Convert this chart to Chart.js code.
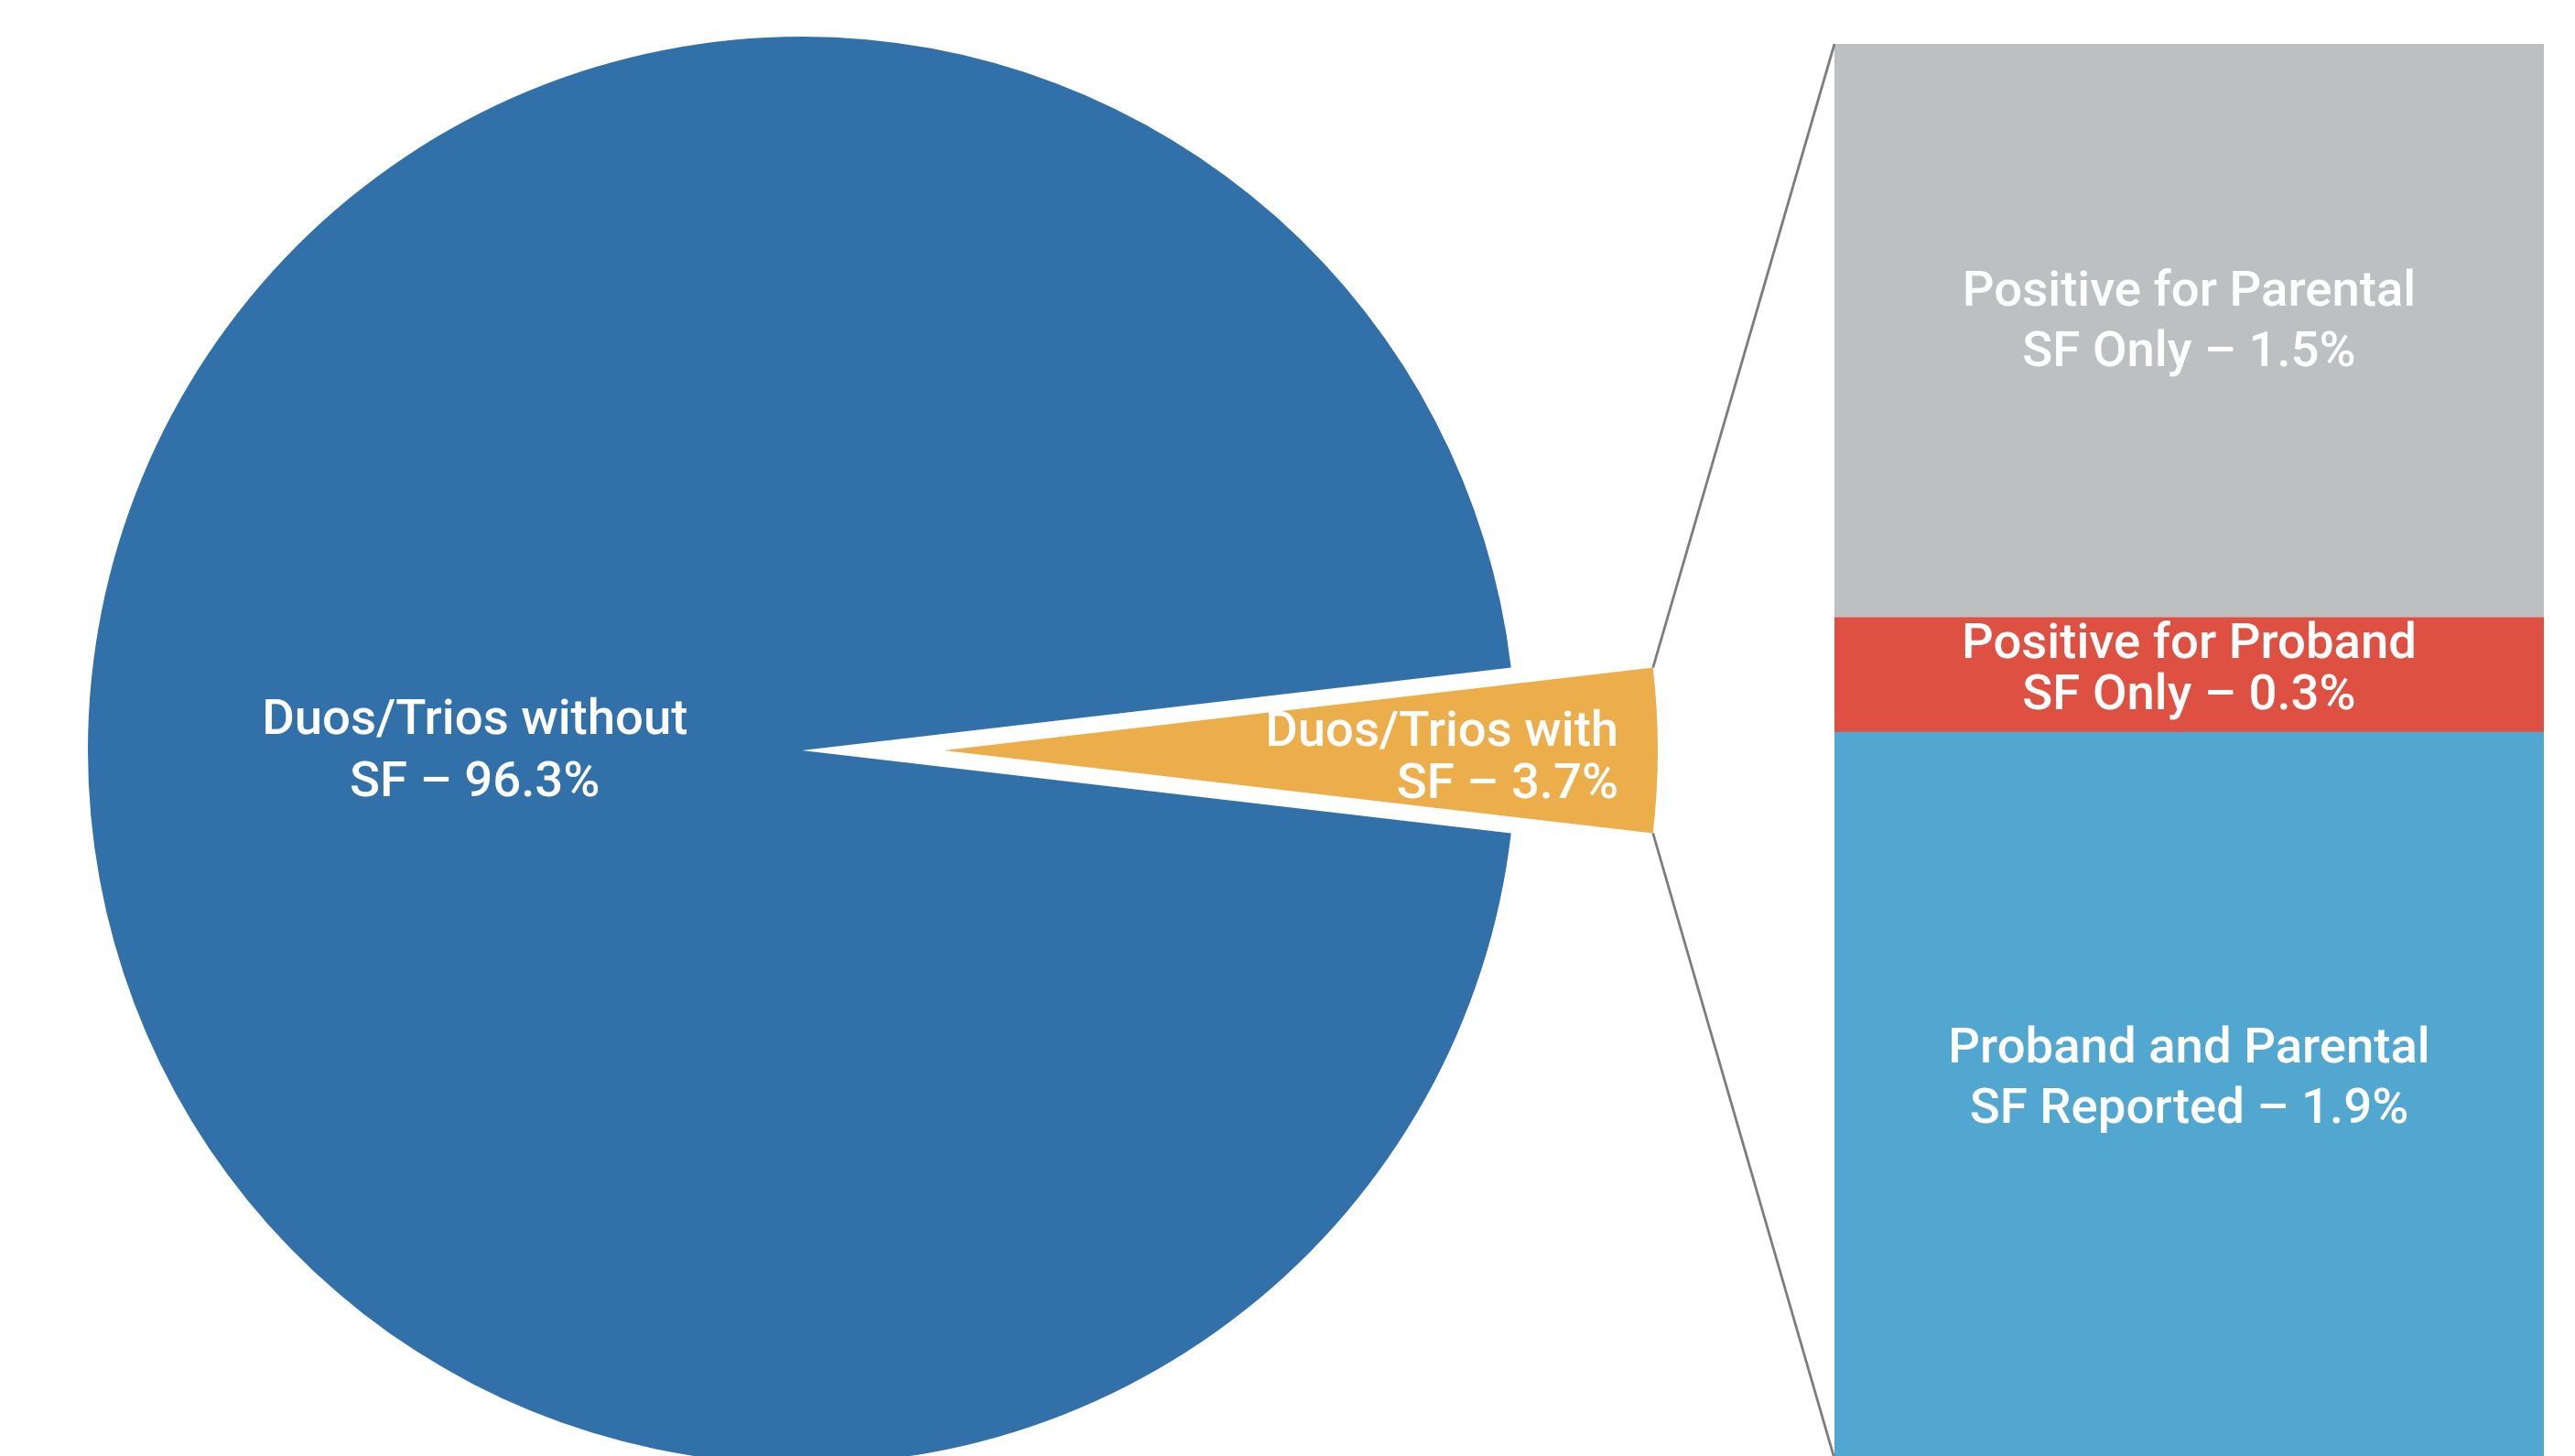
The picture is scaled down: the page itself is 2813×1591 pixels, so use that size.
<!DOCTYPE html>
<html>
<head>
<meta charset="utf-8">
<script src="https://cdn.jsdelivr.net/npm/chart.js@4.4.0/dist/chart.umd.min.js"></script>
<style>
  html, body { margin: 0; padding: 0; background: #ffffff; overflow: hidden; width: 2813px; height: 1591px; }
  #barWrap { position: absolute; left: 2004px; top: 48px; width: 775px; height: 1546px; }
  #pieWrap { position: absolute; left: 0; top: 0; width: 2813px; height: 1591px; }
  canvas { display: block; }
</style>
</head>
<body>
<div id="barWrap"><canvas id="bar" width="775" height="1546"></canvas></div>
<div id="pieWrap"><canvas id="pie" width="2813" height="1591"></canvas></div>
<script>
// ---------- data ----------
const pieCategories = [['Duos/Trios without', 'SF'], ['Duos/Trios with', 'SF']];
const pieValues = [96.3, 3.7];
const pieColors = ['#3170A8', '#ECAE4A'];

const barCategories = ['Duos/Trios with SF'];
const barSeriesNames = [['Proband and Parental', 'SF Reported'], ['Positive for Proband', 'SF Only'], ['Positive for Parental', 'SF Only']];
const barValues = [1.9, 0.3, 1.5];
const barColors = ['#52A7D1', '#DE5142', '#BEBFC1'];

// ---------- styles ----------
const FONT = '500 54.5px Roboto, "Open Sans", sans-serif';
const CAP = 38.7;
const EXPLODE_INDEX = 1;
const EXPLODE_DIST = 155;
const pieLabelStyle = [
  { dist: 0.458, align: 'center', lh: 68, shift: -3 },
  { dist: 0.945, align: 'right', lh: 57, shift: 4 }
];
const barLabelStyle = [
  { lh: 66, shift: -22 },
  { lh: 56, shift: -10 },
  { lh: 66, shift: -14 }
];

function fmt(v) { return v.toFixed(1) + '%'; }
function labelLines(nameLines, v) {
  const lines = nameLines.slice();
  lines[lines.length - 1] = lines[lines.length - 1] + ' \u2013 ' + fmt(v);
  return lines;
}
function drawBlock(ctx, lines, x, cy, lh, align, shift) {
  ctx.save();
  ctx.font = FONT;
  ctx.fillStyle = '#ffffff';
  ctx.textAlign = align;
  ctx.textBaseline = 'alphabetic';
  const n = lines.length;
  lines.forEach((t, i) => {
    const y = cy + CAP / 2 + (i - (n - 1) / 2) * lh + shift;
    ctx.fillText(t, x, y);
  });
  ctx.restore();
}

// ---------- bar chart ----------
const barTotal = barValues.reduce((a, b) => a + b, 0);
const barLabelPlugin = {
  id: 'barLabels',
  afterDatasetsDraw(chart) {
    const ctx = chart.ctx;
    chart.data.datasets.forEach((ds, i) => {
      const el = chart.getDatasetMeta(i).data[0];
      const cy = (el.y + el.base) / 2;
      const st = barLabelStyle[i];
      drawBlock(ctx, labelLines(barSeriesNames[i], barValues[i]), el.x, cy, st.lh, 'center', st.shift);
    });
  }
};
const barChart = new Chart(document.getElementById('bar'), {
  type: 'bar',
  data: {
    labels: barCategories,
    datasets: barValues.map((v, i) => ({
      label: barSeriesNames[i].join(' '),
      data: [v],
      backgroundColor: barColors[i],
      borderWidth: 0,
      barPercentage: 1,
      categoryPercentage: 1
    }))
  },
  options: {
    responsive: false,
    animation: false,
    events: [],
    layout: { padding: 0 },
    scales: {
      x: { stacked: true, display: false },
      y: { stacked: true, display: false, min: 0, max: barTotal }
    },
    plugins: { legend: { display: false }, tooltip: { enabled: false } }
  },
  plugins: [barLabelPlugin]
});

// ---------- pie chart ----------
const pieTotal = pieValues.reduce((a, b) => a + b, 0);
const explodeHalf = pieValues[EXPLODE_INDEX] / pieTotal * 180;
let before = 0;
for (let i = 0; i < EXPLODE_INDEX; i++) before += pieValues[i];
const rotationDeg = 90 - (before / pieTotal * 360 + explodeHalf);

const explodePlugin = {
  id: 'explode',
  afterDatasetsUpdate(chart) {
    const el = chart.getDatasetMeta(0).data[EXPLODE_INDEX];
    const mid = (el.startAngle + el.endAngle) / 2;
    el.x += EXPLODE_DIST * Math.cos(mid);
    el.y += EXPLODE_DIST * Math.sin(mid);
  }
};
const connectorPlugin = {
  id: 'connectors',
  afterDatasetsDraw(chart) {
    const ctx = chart.ctx;
    const el = chart.getDatasetMeta(0).data[EXPLODE_INDEX];
    const r = el.outerRadius;
    const a = { x: el.x + r * Math.cos(el.startAngle), y: el.y + r * Math.sin(el.startAngle) };
    const b = { x: el.x + r * Math.cos(el.endAngle), y: el.y + r * Math.sin(el.endAngle) };
    const wrap = document.getElementById('barWrap');
    const ox = wrap.offsetLeft, oy = wrap.offsetTop;
    const topEl = barChart.getDatasetMeta(barValues.length - 1).data[0];
    const botEl = barChart.getDatasetMeta(0).data[0];
    const tl = { x: ox + topEl.x - topEl.width / 2, y: oy + topEl.y };
    const bl = { x: ox + botEl.x - botEl.width / 2, y: oy + botEl.base };
    ctx.save();
    ctx.strokeStyle = '#7c7d80';
    ctx.lineWidth = 2.8;
    ctx.beginPath();
    ctx.moveTo(a.x, a.y); ctx.lineTo(tl.x, tl.y);
    ctx.moveTo(b.x, b.y); ctx.lineTo(bl.x, bl.y);
    ctx.stroke();
    ctx.restore();
  }
};
const pieLabelPlugin = {
  id: 'pieLabels',
  afterDatasetsDraw(chart) {
    const ctx = chart.ctx;
    chart.getDatasetMeta(0).data.forEach((el, i) => {
      const st = pieLabelStyle[i];
      const mid = (el.startAngle + el.endAngle) / 2;
      const x = el.x + st.dist * el.outerRadius * Math.cos(mid);
      const y = el.y + st.dist * el.outerRadius * Math.sin(mid);
      drawBlock(ctx, labelLines(pieCategories[i], pieValues[i]), x, y, st.lh, st.align, st.shift);
    });
  }
};

new Chart(document.getElementById('pie'), {
  type: 'pie',
  data: {
    labels: pieCategories.map(l => l.join(' ')),
    datasets: [{
      data: pieValues,
      backgroundColor: pieColors,
      borderWidth: 0,
      clip: false
    }]
  },
  options: {
    responsive: false,
    animation: false,
    events: [],
    radius: 780,
    rotation: rotationDeg,
    layout: { padding: { left: 0, right: 1061, top: 49, bottom: 0 } },
    plugins: { legend: { display: false }, tooltip: { enabled: false } }
  },
  plugins: [explodePlugin, connectorPlugin, pieLabelPlugin]
});
</script>
</body>
</html>
